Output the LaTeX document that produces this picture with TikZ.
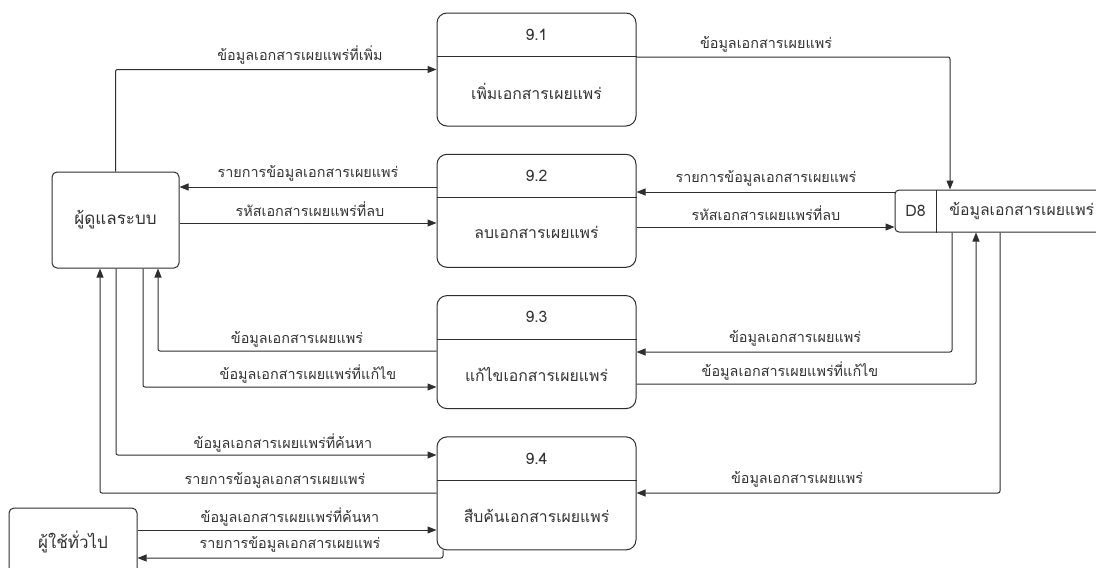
\documentclass[tikz,border=0pt]{standalone}
\usepackage{fontspec}
\newfontfamily\thaifont[Script=Thai]{Loma}
\usetikzlibrary{arrows.meta, positioning, calc}
\definecolor{cline}{HTML}{2E2E2E}
\definecolor{ctext}{HTML}{333333}
\tikzset{
  every picture/.style={font=\thaifont, line width=1pt},
  box/.style={draw=cline, fill=white, align=center, text=ctext},
  flow/.style={-{Triangle[length=9pt, width=7pt]}, draw=cline, rounded corners=2pt},
  lbl/.style={font=\thaifont\fontsize{14.4}{16}\selectfont, text=ctext, inner sep=1pt},
}

\begin{document}
\begin{tikzpicture}[x=1pt, y=-1pt]
  \tikzset{
    proc/.style={box, rounded corners=10pt, minimum width=199pt, minimum height=113pt},
    ent/.style={box, rounded corners=5pt, minimum width=127pt, font=\thaifont\fontsize{17}{20}\selectfont},
    ptext/.style={text=ctext, font=\thaifont\fontsize{15.8}{18}\selectfont},
  }
  \useasboundingbox (0,0) rectangle (1096,568);
  \clip (0,0) rectangle (1096,568);
  % processes 9.1 - 9.4
  \foreach \i/\t in {1/เพิ่มเอกสารเผยแพร่, 2/ลบเอกสารเผยแพร่, 3/แก้ไขเอกสารเผยแพร่, 4/สืบค้นเอกสารเผยแพร่}
  {
    \node[proc] (p\i) at (536.5, {69.5+141.3*(\i-1)}) {};
    \draw[cline] ([yshift=-44pt]p\i.north west) -- ([yshift=-44pt]p\i.north east);
    \node[ptext] (n\i) at ([yshift=-22pt]p\i.north) {9.\i};
    \node[ptext] (t\i) at ([yshift=-79pt]p\i.north) {\t};
  }
  % data store D8
  \node[box, rounded corners=4pt, minimum width=230pt, minimum height=42pt] (d8) at (1010,211) {};
  \draw[cline] ([xshift=42pt]d8.north west) -- ([xshift=42pt]d8.south west);
  \node[ptext] (d8id) at ([xshift=21pt]d8.west) {D8};
  \node[ptext, anchor=west] (d8name) at ([xshift=51pt]d8.west) {ข้อมูลเอกสารเผยแพร่};
  % external entities
  \node[ent, minimum height=96pt] (admin) at (115.5,220) {ผู้ดูแลระบบ};
  \node[ent, minimum height=68pt, minimum width=128pt] (user) at (73,542) {ผู้ใช้ทั่วไป};

  % lanes for the flows
  \foreach \y in {57,187,192,223,227,351,352,384,387,455,493,530,558} \coordinate (h\y) at (0,\y);
  \foreach \x in {100,116,143,158,443,950,952,976,1000} \coordinate (v\x) at (\x,0);

  \draw[flow] (admin.north) |- (p1.west);
  \draw[flow] (p1.east |- h57) -| (d8.north -| v950);
  \draw[flow] (p2.west |- h187) -- (admin.east |- h187);
  \draw[flow] (admin.east |- h223) -- (p2.west |- h223);
  \draw[flow] (d8.west |- h192) -- (p2.east |- h192);
  \draw[flow] (p2.east |- h227) -- (d8.west |- h227);
  \draw[flow] (d8.south -| v952) |- (p3.east |- h352);
  \draw[flow] (p3.east |- h384) -| (d8.south -| v976);
  \draw[flow] (d8.south -| v1000) |- (p4.east |- h493);
  \draw[flow] (p3.west |- h351) -| (admin.south -| v158);
  \draw[flow] (admin.south -| v143) |- (p3.west |- h387);
  \draw[flow] (admin.south -| v116) |- (p4.west |- h455);
  \draw[flow] (p4.west |- h493) -| (admin.south -| v100);
  \draw[flow] (user.east |- h530) -- (p4.west |- h530);
  \draw[flow] (p4.south -| v443) |- (user.east |- h558);

  % flow labels
  \foreach \x/\y/\t [count=\k] in {
      300/55/ข้อมูลเอกสารเผยแพร่ที่เพิ่ม,
      766/44/ข้อมูลเอกสารเผยแพร่,
      308/173/รายการข้อมูลเอกสารเผยแพร่,
      310/209/รหัสเอกสารเผยแพร่ที่ลบ,
      766/178/รายการข้อมูลเอกสารเผยแพร่,
      766/213/รหัสเอกสารเผยแพร่ที่ลบ,
      297/339/ข้อมูลเอกสารเผยแพร่,
      308/374/ข้อมูลเอกสารเผยแพร่ที่แก้ไข,
      795/338/ข้อมูลเอกสารเผยแพร่,
      790/371/ข้อมูลเอกสารเผยแพร่ที่แก้ไข,
      283/443/ข้อมูลเอกสารเผยแพร่ที่ค้นหา,
      275/480/รายการข้อมูลเอกสารเผยแพร่,
      797/479/ข้อมูลเอกสารเผยแพร่,
      290/517/ข้อมูลเอกสารเผยแพร่ที่ค้นหา,
      290/544/รายการข้อมูลเอกสารเผยแพร่}
    \node[lbl] (lab\k) at (\x,\y) {\t};
\end{tikzpicture}
\end{document}
